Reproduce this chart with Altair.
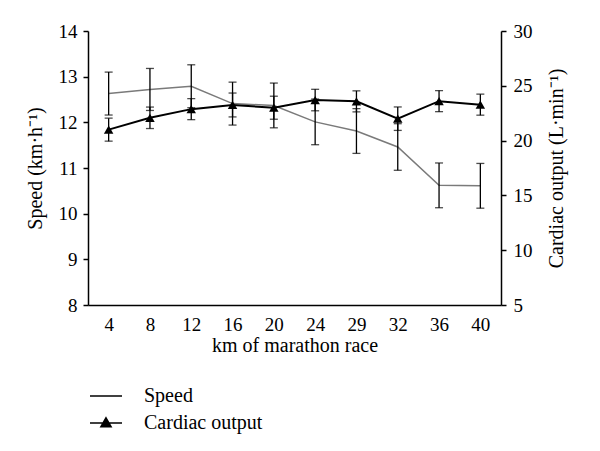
import altair as alt
import pandas as pd

# ---- data ----
km = [4, 8, 12, 16, 20, 24, 29, 32, 36, 40]
speed = [12.63, 12.72, 12.79, 12.41, 12.37, 12.01, 11.81, 11.46, 10.62, 10.61]
speed_sd = [0.47, 0.46, 0.47, 0.47, 0.49, 0.50, 0.49, 0.51, 0.49, 0.49]
cardiac = [21.0, 22.08, 22.87, 23.25, 23.0, 23.7, 23.58, 22.0, 23.6, 23.28]
cardiac_sd = [1.05, 0.98, 0.96, 1.09, 1.05, 0.98, 0.96, 1.07, 0.96, 0.96]
series_names = ["Speed", "Cardiac output"]
speed_ticks = [8, 9, 10, 11, 12, 13, 14]
cardiac_ticks = [5, 10, 15, 20, 25, 30]

df = pd.DataFrame({
    "km": km,
    "speed": speed,
    "speed_sd": speed_sd,
    "cardiac": cardiac,
    "cardiac_sd": cardiac_sd,
})

FONT = "Liberation Serif"

base = alt.Chart(df)

x_enc = alt.X(
    "km:O",
    sort=km,
    scale=alt.Scale(type="point", padding=0.5),
    axis=alt.Axis(title="km of marathon race", labelAngle=0, ticks=False,
                  labelPadding=10, titlePadding=1),
)

speed_scale = alt.Scale(domain=[8, 14], nice=False, zero=False)
card_scale = alt.Scale(domain=[5, 30], nice=False, zero=False)

speed_axis = alt.Axis(title="Speed (km·h⁻¹)", values=speed_ticks,
                      tickSize=5, labelPadding=6, titlePadding=13)
card_axis = alt.Axis(title="Cardiac output (L·min⁻¹)", orient="right",
                     values=cardiac_ticks, tickSize=5, labelPadding=7,
                     titlePadding=34, titleAngle=270)

# ---- speed (left axis) ----
speed_line = base.mark_line(color="#7a7a7a", strokeWidth=1.5).encode(
    x=x_enc,
    y=alt.Y("speed:Q", scale=speed_scale, axis=speed_axis),
)
speed_err = base.transform_calculate(
    lo="datum.speed - datum.speed_sd", hi="datum.speed + datum.speed_sd"
)
speed_rule = speed_err.mark_rule(color="black", strokeWidth=1.3).encode(
    x=x_enc, y=alt.Y("lo:Q", scale=speed_scale, axis=speed_axis), y2="hi:Q"
)
speed_cap_lo = speed_err.mark_tick(color="black", size=8, thickness=1.3).encode(
    x=x_enc, y=alt.Y("lo:Q", scale=speed_scale, axis=speed_axis)
)
speed_cap_hi = speed_err.mark_tick(color="black", size=8, thickness=1.3).encode(
    x=x_enc, y=alt.Y("hi:Q", scale=speed_scale, axis=speed_axis)
)

legend_paths = [
    "M-1,0L1,0",
    "M-1,0L1,0M0,-0.32L0.32,0.24L-0.32,0.24Z",
]
legend_layer = base.transform_calculate(series="'Speed'").mark_point(
    opacity=0, filled=False, color="black", fill="black", size=1024,
    strokeWidth=1.5,
).encode(
    x=x_enc,
    y=alt.Y("speed:Q", scale=speed_scale, axis=speed_axis),
    shape=alt.Shape(
        "series:N",
        scale=alt.Scale(domain=series_names, range=legend_paths),
        legend=alt.Legend(
            title=None, orient="none", legendX=1, legendY=348,
            direction="vertical", symbolSize=1024, symbolOpacity=1,
            symbolStrokeWidth=1.5,
            labelFontSize=20, labelFont=FONT,
            labelOffset=21, rowPadding=-9, padding=0, labelColor="black",
        ),
    ),
)

left = alt.layer(speed_line, speed_rule, speed_cap_lo, speed_cap_hi, legend_layer)

# ---- cardiac output (right axis) ----
card_line = base.mark_line(color="black", strokeWidth=2).encode(
    x=x_enc,
    y=alt.Y("cardiac:Q", scale=card_scale, axis=card_axis),
)
card_err = base.transform_calculate(
    lo="datum.cardiac - datum.cardiac_sd", hi="datum.cardiac + datum.cardiac_sd"
)
card_rule = card_err.mark_rule(color="black", strokeWidth=1.3).encode(
    x=x_enc, y=alt.Y("lo:Q", scale=card_scale, axis=card_axis), y2="hi:Q"
)
card_cap_lo = card_err.mark_tick(color="black", size=8, thickness=1.3).encode(
    x=x_enc, y=alt.Y("lo:Q", scale=card_scale, axis=card_axis)
)
card_cap_hi = card_err.mark_tick(color="black", size=8, thickness=1.3).encode(
    x=x_enc, y=alt.Y("hi:Q", scale=card_scale, axis=card_axis)
)
card_pts = base.mark_point(shape="triangle-up", filled=True, color="black",
                           size=90, opacity=1).encode(
    x=x_enc, y=alt.Y("cardiac:Q", scale=card_scale, axis=card_axis)
)

right = alt.layer(card_rule, card_cap_lo, card_cap_hi, card_line, card_pts)

chart = alt.layer(left, right).resolve_scale(y="independent").properties(
    width=413, height=274,
    padding={"left": 17, "top": 14, "right": 5, "bottom": 5},
).configure_view(stroke=None).configure_axis(
    labelFont=FONT, titleFont=FONT, labelFontSize=19, titleFontSize=20,
    titleFontWeight="normal", labelColor="black", titleColor="black",
    domainColor="black", tickColor="black", domainWidth=1.5, tickWidth=1.5,
    grid=False,
).configure_legend(labelFont=FONT)

chart.save("out.html", embed_options={"renderer": "svg", "actions": False})
